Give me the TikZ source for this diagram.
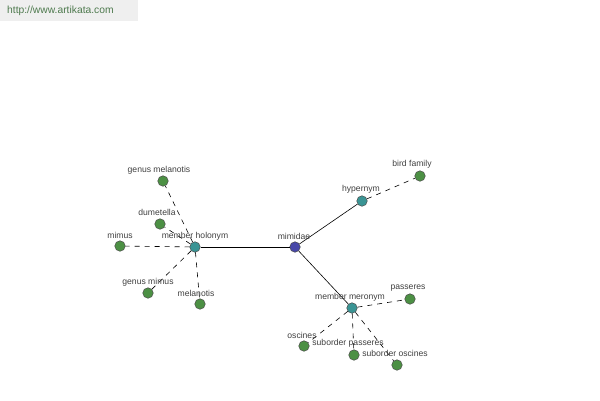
\documentclass[tikz,border=0pt]{standalone}
\usepackage{fontspec}
\setmainfont{Liberation Sans}
\definecolor{cblue}{HTML}{4848A8}
\definecolor{cteal}{HTML}{3A9494}
\definecolor{cgreen}{HTML}{4C9044}
\definecolor{lbl}{HTML}{404040}
\definecolor{hdrbg}{HTML}{EFEFEF}
\definecolor{hdrtx}{HTML}{4E7A4E}
\begin{document}
\begin{tikzpicture}[x=1pt,y=-1pt,
  dot/.style={circle,draw=black!70,line width=0.5pt,minimum size=10.5pt,inner sep=0pt},
  hub/.style={dot,fill=cblue},
  mid/.style={dot,fill=cteal},
  leaf/.style={dot,fill=cgreen},
  lab/.style={font=\fontsize{8.6}{9}\selectfont,text=lbl,inner sep=0pt},
  solidlink/.style={draw=black,line width=0.6pt},
  dashlink/.style={draw=black,line width=0.6pt,dash pattern=on 5pt off 5pt}]
\useasboundingbox (0,0) rectangle (600,400);
\fill[white] (0,0) rectangle (600,400);
\fill[hdrbg] (0,0) rectangle (138,21);
\node[font=\fontsize{10.3}{11}\selectfont,text=hdrtx,anchor=west,inner sep=0pt] (url) at (7,11) {http://www.artikata.com};
% nodes
\node[hub] (mimidae) at (295,247) {};
\node[mid] (holonym) at (195,247) {};
\node[mid] (hypernym) at (362,201) {};
\node[mid] (meronym) at (352,308) {};
\node[leaf] (birdfamily) at (420,176) {};
\node[leaf] (genmel) at (163,181) {};
\node[leaf] (dumetella) at (160,224) {};
\node[leaf] (mimus) at (120,246) {};
\node[leaf] (genmimus) at (148,293) {};
\node[leaf] (melanotis) at (200,304) {};
\node[leaf] (passeres) at (410,299) {};
\node[leaf] (oscines) at (304,346) {};
\node[leaf] (subpass) at (354,355) {};
\node[leaf] (subosc) at (397,365) {};
% links
\path[solidlink] (mimidae) -- (holonym);
\path[solidlink] (mimidae) -- (hypernym);
\path[solidlink] (mimidae) -- (meronym);
\path[dashlink] (hypernym) -- (birdfamily);
\path[dashlink] (holonym) -- (genmel);
\path[dashlink] (holonym) -- (dumetella);
\path[dashlink] (holonym) -- (mimus);
\path[dashlink] (holonym) -- (genmimus);
\path[dashlink] (holonym) -- (melanotis);
\path[dashlink] (meronym) -- (passeres);
\path[dashlink] (meronym) -- (oscines);
\path[dashlink] (meronym) -- (subpass);
\path[dashlink] (meronym) -- (subosc);
% labels
\node[lab] (l1) at (294,236) {mimidae};
\node[lab] (l2) at (195,236) {member holonym};
\node[lab] (l3) at (361,189) {hypernym};
\node[lab] (l4) at (350,297) {member meronym};
\node[lab] (l5) at (412,164) {bird family};
\node[lab] (l6) at (159,170) {genus melanotis};
\node[lab] (l7) at (157,212) {dumetella};
\node[lab] (l8) at (120,235) {mimus};
\node[lab] (l9) at (148,282) {genus mimus};
\node[lab] (l10) at (196,293) {melanotis};
\node[lab] (l11) at (408,288) {passeres};
\node[lab] (l12) at (302,335) {oscines};
\node[lab] (l13) at (348,343) {suborder passeres};
\node[lab] (l14) at (395,353) {suborder oscines};
\end{tikzpicture}
\end{document}
